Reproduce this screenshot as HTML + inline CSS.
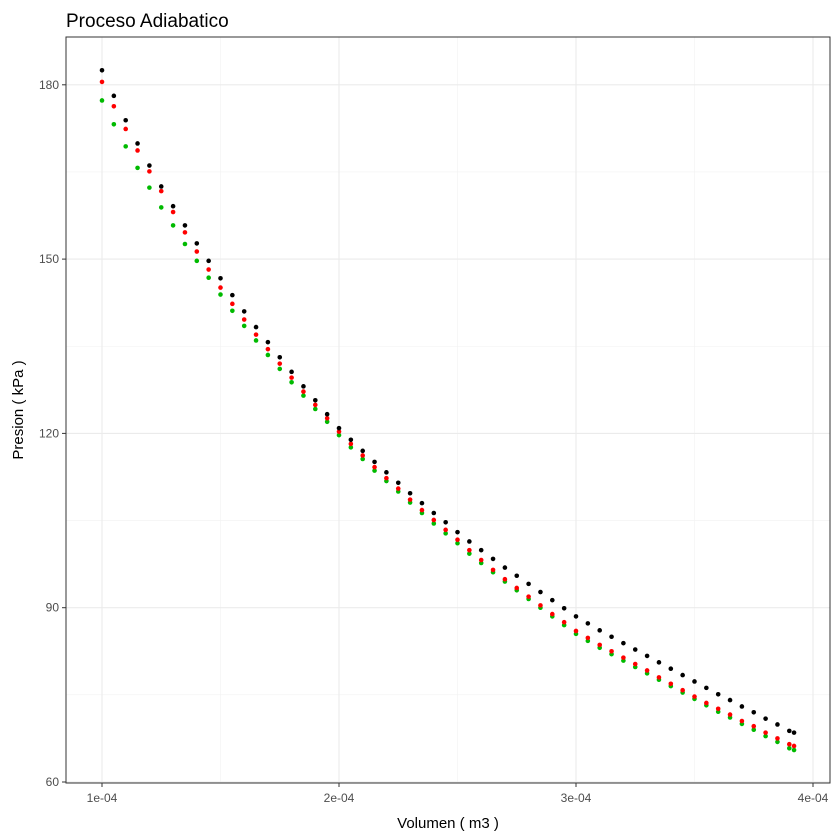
<!DOCTYPE html>
<html><head><meta charset="utf-8"><style>
html,body{margin:0;padding:0;background:#fff;}
svg{display:block;font-family:"Liberation Sans",sans-serif;}
</style></head><body>
<svg id="chart" width="840" height="840">
<rect width="840" height="840" fill="#fff"/>
<text x="66" y="27" font-size="19" fill="#000">Proceso Adiabatico</text>
<g id="grid"></g>
<g id="pts"></g>
<rect x="66" y="37" width="764" height="746" fill="none" stroke="#333" stroke-width="1"/>
<g id="axes"></g>
<text x="448" y="828" font-size="15" text-anchor="middle" fill="#000">Volumen ( m3 )</text>
<text transform="translate(23,410) rotate(-90)" font-size="15" text-anchor="middle" fill="#000">Presion ( kPa )</text>
</svg>
<script>
const volumes=[100,105,110,115,120,125,130,135,140,145,150,155,160,165,170,175,180,185,190,195,200,205,210,215,220,225,230,235,240,245,250,255,260,265,270,275,280,285,290,295,300,305,310,315,320,325,330,335,340,345,350,355,360,365,370,375,380,385,390,392];
const pressBlack=[182.5,178.1,173.9,169.9,166.1,162.5,159.1,155.8,152.7,149.7,146.7,143.8,141.0,138.3,135.7,133.1,130.6,128.1,125.7,123.3,120.9,118.9,117.0,115.1,113.3,111.5,109.7,108.0,106.3,104.7,103.0,101.4,99.9,98.4,96.9,95.5,94.1,92.7,91.3,89.9,88.5,87.3,86.1,85.0,83.9,82.8,81.7,80.6,79.5,78.4,77.3,76.2,75.1,74.1,73.0,72.0,70.9,69.9,68.8,68.5];
const pressRed=[180.5,176.3,172.4,168.7,165.1,161.7,158.1,154.6,151.3,148.2,145.1,142.3,139.6,137.0,134.5,132.0,129.6,127.2,124.9,122.6,120.3,118.2,116.2,114.2,112.3,110.5,108.6,106.8,105.1,103.4,101.7,99.9,98.2,96.5,94.9,93.4,91.9,90.4,88.9,87.5,86.0,84.8,83.6,82.5,81.4,80.3,79.2,78.0,76.9,75.8,74.7,73.6,72.6,71.6,70.5,69.6,68.5,67.5,66.5,66.2];
const pressGreen=[177.3,173.2,169.4,165.7,162.3,158.9,155.8,152.6,149.7,146.8,143.9,141.1,138.5,136.0,133.5,131.1,128.8,126.5,124.2,122.0,119.7,117.6,115.6,113.6,111.8,110.0,108.1,106.3,104.5,102.8,101.1,99.3,97.7,96.1,94.5,93.0,91.5,90.0,88.5,87.0,85.5,84.3,83.1,82.0,80.9,79.8,78.7,77.6,76.5,75.4,74.3,73.2,72.1,71.1,70.0,69.0,67.9,66.9,65.8,65.5];
const xTicks=[100,200,300,400];
const xTickLabels=["1e-04","2e-04","3e-04","4e-04"];
const xMinor=[150,250,350];
const yTicks=[60,90,120,150,180];
const yMinor=[75,105,135,165];
const NS="http://www.w3.org/2000/svg";
function sx(v){return 102+(v-100)*2.37;}
function sy(p){return 782-(p-60)*5.81;}
function mk(tag,attrs,parent){const e=document.createElementNS(NS,tag);for(const k in attrs)e.setAttribute(k,attrs[k]);parent.appendChild(e);return e;}
const grid=document.getElementById('grid'),axes=document.getElementById('axes'),pts=document.getElementById('pts');
xMinor.forEach(v=>{const l=mk('line',{x1:sx(v),x2:sx(v),y1:37,y2:783,stroke:'#f2f2f2','stroke-width':0.6},grid);

});
yMinor.forEach(p=>{const l=mk('line',{x1:66,x2:830,y1:sy(p),y2:sy(p),stroke:'#f2f2f2','stroke-width':0.6},grid);

});
xTicks.forEach((v,i)=>{const l=mk('line',{x1:sx(v),x2:sx(v),y1:37,y2:783,stroke:'#ebebeb','stroke-width':1.1},grid);


const t=mk('line',{x1:sx(v),x2:sx(v),y1:783,y2:787,stroke:'#333'},axes);


const tx=mk('text',{x:sx(v),y:802,'font-size':12,'text-anchor':'middle',fill:'#4d4d4d'},axes);tx.textContent=xTickLabels[i];

});
yTicks.forEach(p=>{const l=mk('line',{x1:66,x2:830,y1:sy(p),y2:sy(p),stroke:'#ebebeb','stroke-width':1.1},grid);


const t=mk('line',{x1:62,x2:66,y1:sy(p),y2:sy(p),stroke:'#333'},axes);


const tx=mk('text',{x:59,y:sy(p)+4,'font-size':12,'text-anchor':'end',fill:'#4d4d4d'},axes);tx.textContent=String(p);

});
function drawSeries(arr,color,name){arr.forEach((p,i)=>{const c=mk('circle',{cx:sx(volumes[i]),cy:sy(p),r:2.3,fill:color},pts);

});}
drawSeries(pressGreen,'#00ba00','point-green');
drawSeries(pressRed,'#ff0000','point-red');
drawSeries(pressBlack,'#000000','point-black');
</script>
</body></html>
